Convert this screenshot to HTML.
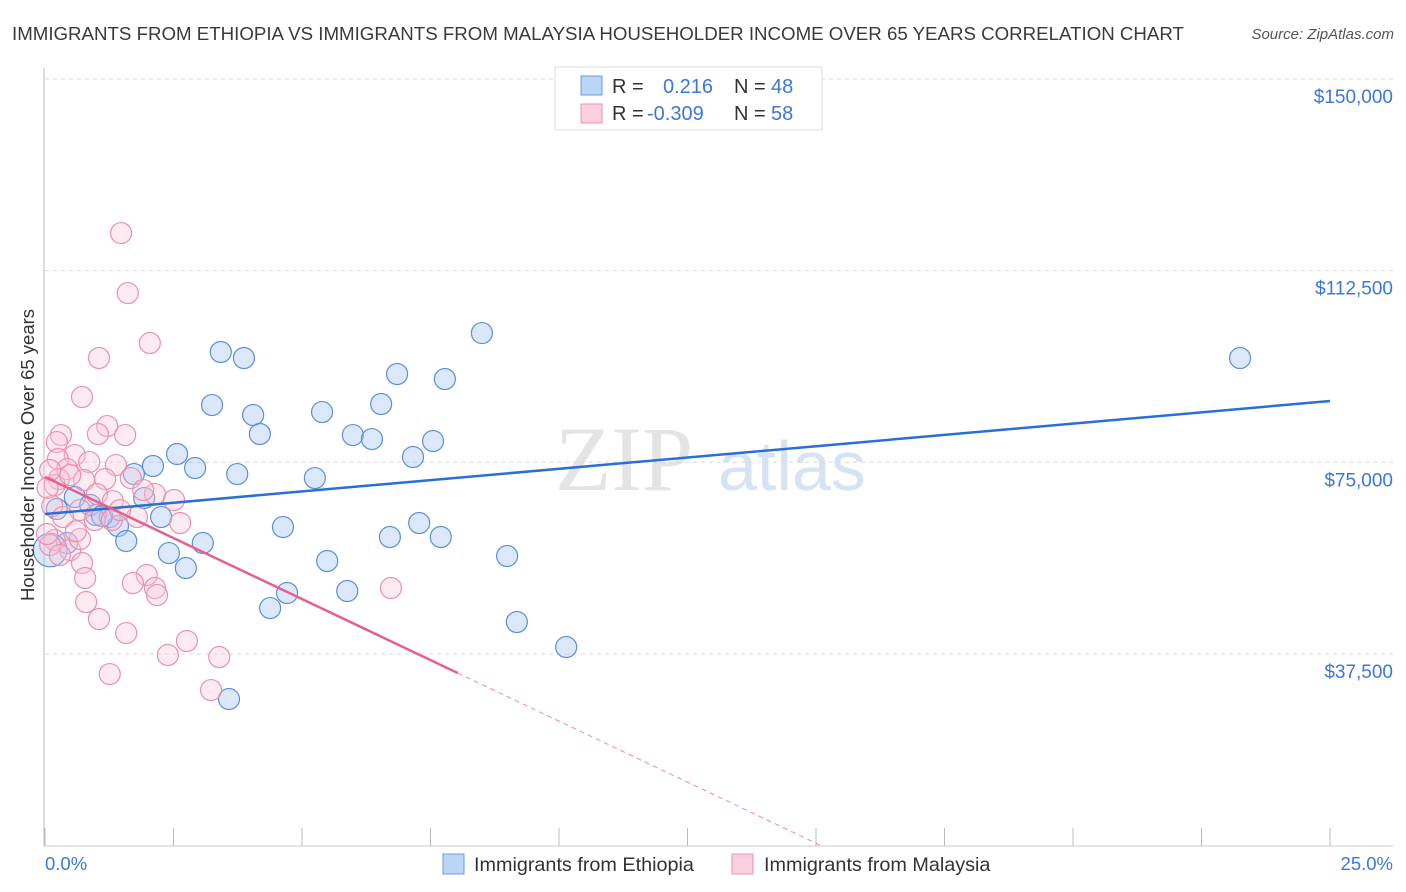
<!DOCTYPE html>
<html><head><meta charset="utf-8"><style>
body{margin:0;background:#fff;font-family:"Liberation Sans",sans-serif;}
svg{display:block}
</style></head><body>
<svg id="chart" width="1406" height="892" viewBox="0 0 1406 892" xmlns="http://www.w3.org/2000/svg">
<text x="12" y="40" font-size="18.7" fill="#3a3a3a">IMMIGRANTS FROM ETHIOPIA VS IMMIGRANTS FROM MALAYSIA HOUSEHOLDER INCOME OVER 65 YEARS CORRELATION CHART</text>
<text x="1394" y="39" font-size="15" font-style="italic" fill="#555" text-anchor="end">Source: ZipAtlas.com</text>
<g>
<text x="555" y="490" font-size="92" font-family="Liberation Serif" fill="#e4e4e4">ZIP</text>
<text x="718" y="490" font-size="70" fill="#d5e3f3">atlas</text>
</g>
<g id="grid"></g>
<g id="axes"></g>
<g id="marks"></g>
<text transform="translate(34,455) rotate(-90)" font-size="18.5" fill="#333" text-anchor="middle">Householder Income Over 65 years</text>
<text x="45" y="870" font-size="18.5" fill="#3b78d8">0.0%</text>
<text x="1393" y="870" font-size="18.5" fill="#3b78d8" text-anchor="end">25.0%</text>
<g>
<rect x="555" y="67" width="267" height="63" fill="#fff" stroke="#ddd"/>
<rect x="581" y="76" width="21" height="19" fill="#bcd4f5" stroke="#6a9be0"/>
<rect x="581" y="104" width="21" height="19" fill="#fbcfdc" stroke="#ee93b0"/>
<text x="612" y="93" font-size="20" fill="#333">R =</text>
<text x="663" y="93" font-size="20" fill="#3b78d8">0.216</text>
<text x="734" y="93" font-size="20" fill="#333">N =</text>
<text x="771" y="93" font-size="20" fill="#3b78d8">48</text>
<text x="612" y="120" font-size="20" fill="#333">R =</text>
<text x="647" y="120" font-size="20" fill="#3b78d8">-0.309</text>
<text x="734" y="120" font-size="20" fill="#333">N =</text>
<text x="771" y="120" font-size="20" fill="#3b78d8">58</text>
</g>
<g>
<rect x="443" y="854" width="21" height="20" fill="#bcd4f5" stroke="#6a9be0"/>
<text x="474" y="871" font-size="19.8" fill="#333">Immigrants from Ethiopia</text>
<rect x="732" y="854" width="21" height="20" fill="#fbcfdc" stroke="#ee93b0"/>
<text x="764" y="871" font-size="19.8" fill="#333">Immigrants from Malaysia</text>
</g>
</svg>
<script>
const yTicks=[37500,75000,112500,150000];
const yTickLabels=["$37,500","$75,000","$112,500","$150,000"];
const xTicks=[0,2.5,5,7.5,10,12.5,15,17.5,20,22.5,25];
const ethX=[8.50,23.25,3.42,3.87,6.85,7.78,3.25,6.54,5.39,4.05,4.18,5.99,6.36,7.55,7.16,2.57,2.10,2.92,3.74,1.73,5.25,1.93,0.58,0.23,2.26,0.99,1.26,1.42,4.63,7.28,1.58,6.71,7.70,3.07,0.43,8.99,2.41,5.49,2.74,5.88,4.71,4.38,9.18,10.14,3.58,0.10,0.88,1.11];
const ethY=[100280,95400,96570,95400,92270,91290,86200,86400,84830,84250,80530,80330,79550,79160,76030,76620,74270,73880,72700,72700,71920,68010,68210,65860,64290,64690,64290,62530,62340,63120,59600,60380,60380,59210,59210,56670,57250,55690,54320,49820,49430,46490,43760,38870,28690,57840,66640,64490];
const ethSize=[1,1,1,1,1,1,1,1,1,1,1,1,1,1,1,1,1,1,1,1,1,1,1,1,1,1,1,1,1,1,1,1,1,1,1,1,1,1,1,1,1,1,1,1,1,1.6,1,1];
const malX=[1.48,1.61,2.04,1.05,0.72,0.31,0.23,1.21,1.03,1.56,0.58,0.25,0.86,0.43,1.38,0.27,1.17,1.67,0.76,0.19,1.01,2.14,2.51,1.32,0.68,0.14,1.79,2.63,0.35,0.97,0.19,0.49,0.68,0.10,0.04,0.72,1.98,1.71,2.14,2.18,0.80,1.05,2.76,1.58,2.39,3.39,1.26,3.23,6.73,0.78,0.49,1.91,0.10,1.30,0.29,1.46,0.05,0.60];
const malY=[119840,108110,98330,95400,87770,80330,78960,82090,80530,80330,76420,75640,75050,73680,74460,71730,71730,71920,71530,70550,68790,68790,67620,67420,65660,66450,64290,63120,64290,63710,59800,57840,59990,58820,60970,55300,52950,51380,50410,49040,47670,44340,40040,41600,37300,36910,33580,30450,50410,52360,72510,69570,73490,63710,56860,65660,70000,61500];
const ethTrend=[64880,86990];
const malTrend=[72120,-4775];
const malSolidEnd=8.03;
const NS="http://www.w3.org/2000/svg";
const X0=45,X1=1330,YB=845.7,YPX=191.7/37500;
const xs=v=>X0+v/25*(X1-X0);
const ys=v=>YB-v*YPX;
function mk(t,a,p){const e=document.createElementNS(NS,t);for(const k in a)e.setAttribute(k,a[k]);p.appendChild(e);return e;}
const grid=document.getElementById('grid'),axes=document.getElementById('axes'),marks=document.getElementById('marks');
yTicks.forEach((v,i)=>{
const l=mk('line',{x1:45,x2:1393,y1:ys(v),y2:ys(v),stroke:'#d8d8d8','stroke-dasharray':'4,4'},grid);


const t=mk('text',{x:1393,y:ys(v)+24,'font-size':19,fill:'#3b78d8','text-anchor':'end'},axes);
t.textContent=yTickLabels[i];


});
const ax=mk('line',{x1:44,x2:44,y1:68,y2:846,stroke:'#bbb'},axes);


const bx=mk('line',{x1:44,x2:1393,y1:846,y2:846,stroke:'#ccc'},axes);


xTicks.forEach(v=>{
const t=mk('line',{x1:xs(v),x2:xs(v),y1:828,y2:846,stroke:'#bbb'},axes);


});
ethX.forEach((x,i)=>{
const c=mk('circle',{cx:xs(x),cy:ys(ethY[i]),r:10.5*ethSize[i],fill:'rgba(170,200,242,0.42)',stroke:'#5b8fd9','stroke-width':1.2},marks);


});
malX.forEach((x,i)=>{
const c=mk('circle',{cx:xs(x),cy:ys(malY[i]),r:10.5,fill:'rgba(250,198,214,0.35)',stroke:'#ec8fae','stroke-width':1.2},marks);


});
const bl=mk('line',{x1:xs(0),y1:ys(ethTrend[0]),x2:xs(25),y2:ys(ethTrend[1]),stroke:'#2a6fd6','stroke-width':2.5},marks);


const xe=malSolidEnd;
const pl=mk('line',{x1:xs(0),y1:ys(malTrend[0]),x2:xs(xe),y2:ys(malTrend[0]+malTrend[1]*xe),stroke:'#e4608e','stroke-width':2.5},marks);


const xz=-malTrend[0]/malTrend[1];
const pd=mk('line',{x1:xs(xe),y1:ys(malTrend[0]+malTrend[1]*xe),x2:xs(xz),y2:ys(0),stroke:'#e88aab','stroke-width':1,'stroke-dasharray':'5,4'},marks);


</script>
</body></html>
